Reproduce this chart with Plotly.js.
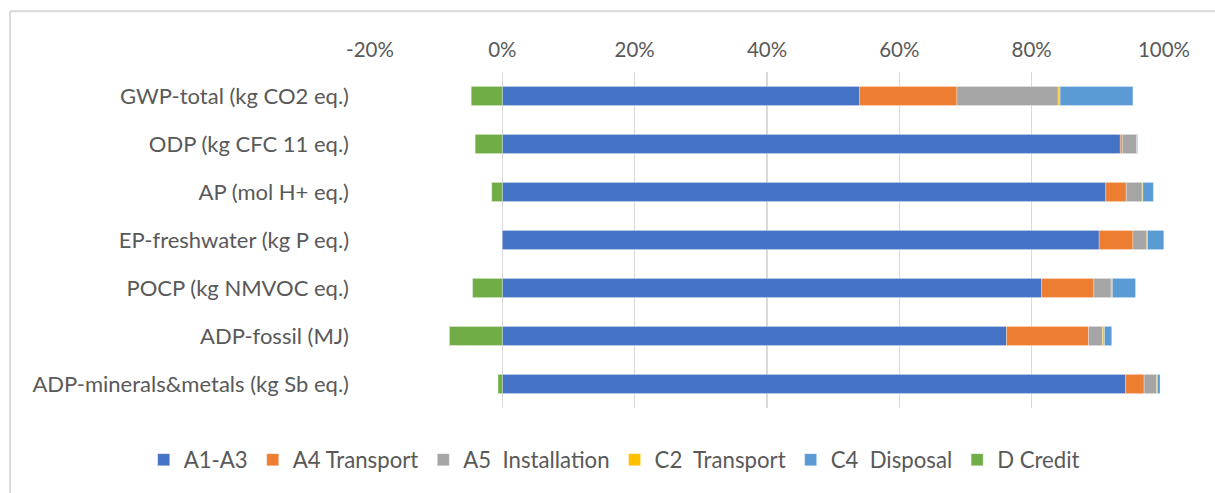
<!DOCTYPE html>
<html>
<head>
<meta charset="utf-8">
<script src="https://cdn.plot.ly/plotly-3.0.1.min.js"></script>
<style>html,body{margin:0;padding:0;background:#fff;}#chart{width:1215px;height:493px;}</style>
</head>
<body>
<div id="chart"></div>
<script>
const categories = [
  "GWP-total (kg CO2 eq.)",
  "ODP (kg CFC 11 eq.)",
  "AP (mol H+ eq.)",
  "EP-freshwater (kg P eq.)",
  "POCP (kg NMVOC eq.)",
  "ADP-fossil (MJ)",
  "ADP-minerals&metals (kg Sb eq.)"
];
const seriesNames = ["A1-A3", "A4 Transport", "A5\u00a0 Installation", "C2\u00a0 Transport", "C4\u00a0 Disposal", "D Credit"];
const a1a3        = [0.540, 0.934, 0.912, 0.902, 0.815, 0.762, 0.942];
const a4Transport = [0.147, 0.003, 0.031, 0.051, 0.079, 0.124, 0.028];
const a5Install   = [0.153, 0.022, 0.024, 0.021, 0.026, 0.021, 0.019];
const c2Transport = [0.003, 0.000, 0.001, 0.001, 0.002, 0.003, 0.001];
const c4Disposal  = [0.110, 0.001, 0.016, 0.025, 0.035, 0.011, 0.004];
const dCredit     = [-0.047, -0.041, -0.016, 0.000, -0.045, -0.080, -0.0065];
const tickVals    = [-0.2, 0, 0.2, 0.4, 0.6, 0.8, 1.0];
const tickLabels  = ["-20%", "0%", "20%", "40%", "60%", "80%", "100%"];

const colors = ["#4472C4", "#ED7D31", "#A5A5A5", "#FFC000", "#5B9BD5", "#70AD47"];
const allSeries = [a1a3, a4Transport, a5Install, c2Transport, c4Disposal, dCredit];

const traces = allSeries.map((vals, i) => ({
  type: "bar",
  orientation: "h",
  name: seriesNames[i],
  y: categories,
  x: vals,
  width: 0.4,
  marker: {color: colors[i], line: {color: "rgba(255,255,255,0.5)", width: 0.6}},
  hoverinfo: "x+name"
}));

const fam = "Lato, 'Open Sans', sans-serif";
const grey = "#595959";

const layout = {
  width: 1215, height: 493,
  margin: {l: 370, r: 51, t: 72, b: 83},
  paper_bgcolor: "#ffffff",
  plot_bgcolor: "#ffffff",
  barmode: "relative",
  font: {family: fam, size: 20, color: grey},
  showlegend: true,
  xaxis: {
    side: "top",
    range: [-0.2, 1.0],
    tickvals: tickVals,
    ticktext: tickLabels,
    showgrid: true,
    gridcolor: "#d9d9d9",
    gridwidth: 1.5,
    zeroline: true,
    zerolinecolor: "#d9d9d9",
    zerolinewidth: 1.5,
    showline: false,
    ticks: "",
    ticklabelstandoff: 10,
    tickfont: {family: fam, size: 20.5, color: grey},
    fixedrange: true
  },
  yaxis: {
    type: "category",
    autorange: "reversed",
    showgrid: false,
    zeroline: false,
    showline: false,
    ticks: "",
    ticklabelstandoff: 20,
    tickfont: {family: fam, size: 22, color: grey},
    fixedrange: true
  },
  legend: {
    orientation: "h",
    xref: "paper",
    yref: "paper",
    x: -0.285, xanchor: "left",
    y: -0.154, yanchor: "middle",
    font: {family: fam, size: 22.2, color: grey},
    traceorder: "normal",
    itemwidth: 30
  },
  shapes: [
    {type: "line", xref: "paper", yref: "paper", x0: -0.4534, x1: 1.07, y0: 1.1805, y1: 1.1805,
     line: {color: "#d9d9d9", width: 2}},
    {type: "line", xref: "paper", yref: "paper", x0: -0.4534, x1: -0.4534, y0: 1.1805, y1: -0.26,
     line: {color: "#d9d9d9", width: 2}}
  ]
};

Plotly.newPlot("chart", traces, layout, {displayModeBar: false, staticPlot: true});
</script>
</body>
</html>
